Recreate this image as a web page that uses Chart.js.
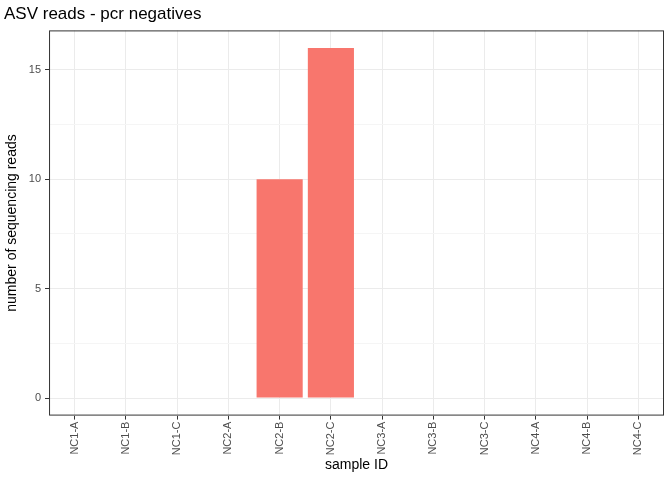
<!DOCTYPE html>
<html>
<head>
<meta charset="utf-8">
<script src="https://cdn.jsdelivr.net/npm/chart.js@4"></script>
<style>
  html, body { margin: 0; padding: 0; background: #fff; }
  #wrap { width: 672px; height: 480px; }
</style>
</head>
<body>
<div id="wrap"><canvas id="chart"></canvas></div>
<script>
var samples = ['NC1-A', 'NC1-B', 'NC1-C', 'NC2-A', 'NC2-B', 'NC2-C',
               'NC3-A', 'NC3-B', 'NC3-C', 'NC4-A', 'NC4-B', 'NC4-C'];
var reads = [0, 0, 0, 0, 10, 16, 0, 0, 0, 0, 0, 0];
var yTicks = [0, 2.5, 5, 7.5, 10, 12.5, 15];

var panelBorder = {
    id: 'panelBorder',
    afterDraw: function(chart) {
        var a = chart.chartArea, c = chart.ctx;
        c.save();
        c.strokeStyle = '#333333';
        c.lineWidth = 1;
        c.strokeRect(a.left + 0.5, a.top + 0.5, a.right - a.left - 1, a.bottom - a.top - 1);
        c.restore();
    }
};

new Chart(document.getElementById('chart').getContext('2d'), {
    type: 'bar',
    data: {
        labels: samples,
        datasets: [{
            data: reads,
            backgroundColor: '#F8766D',
            barPercentage: 0.9,
            categoryPercentage: 1.0
        }]
    },
    plugins: [panelBorder],
    options: {
        responsive: true,
        maintainAspectRatio: false,
        animation: false,
        layout: { padding: { left: 4, right: 8, top: 0, bottom: 6 } },
        plugins: {
            legend: { display: false },
            tooltip: { enabled: false },
            title: {
                display: true,
                text: 'ASV reads - pcr negatives',
                align: 'start',
                color: '#000',
                font: { family: 'Liberation Sans', size: 17, weight: 'normal' },
                padding: { top: 4, bottom: 6 }
            }
        },
        scales: {
            x: {
                offset: true,
                grid: {
                    offset: false,
                    color: '#ebebeb',
                    tickColor: '#333333',
                    tickLength: 4
                },
                border: { display: false },
                ticks: {
                    color: '#4d4d4d',
                    font: { family: 'Liberation Sans', size: 11 },
                    maxRotation: 90,
                    minRotation: 90,
                    padding: 2
                },
                title: {
                    display: true,
                    text: 'sample ID',
                    color: '#000',
                    font: { family: 'Liberation Sans', size: 14 },
                    padding: { top: 0, bottom: 0 }
                }
            },
            y: {
                min: -0.8,
                max: 16.8,
                afterBuildTicks: function(scale) {
                    scale.ticks = yTicks.map(function(v) { return { value: v }; });
                },
                grid: {
                    color: function(ctx) {
                        return (ctx.tick && ctx.tick.value % 5 === 0) ? '#ebebeb' : '#f5f5f5';
                    },
                    tickColor: function(ctx) {
                        return (ctx.tick && ctx.tick.value % 5 === 0) ? '#333333' : 'rgba(0,0,0,0)';
                    },
                    tickLength: 4
                },
                border: { display: false },
                ticks: {
                    color: '#4d4d4d',
                    font: { family: 'Liberation Sans', size: 11 },
                    padding: 4,
                    callback: function(v) { return v % 5 === 0 ? v : ''; }
                },
                title: {
                    display: true,
                    text: 'number of sequencing reads',
                    color: '#000',
                    font: { family: 'Liberation Sans', size: 14 },
                    padding: { top: 0, bottom: 4 }
                }
            }
        }
    }
});
</script>
</body>
</html>
